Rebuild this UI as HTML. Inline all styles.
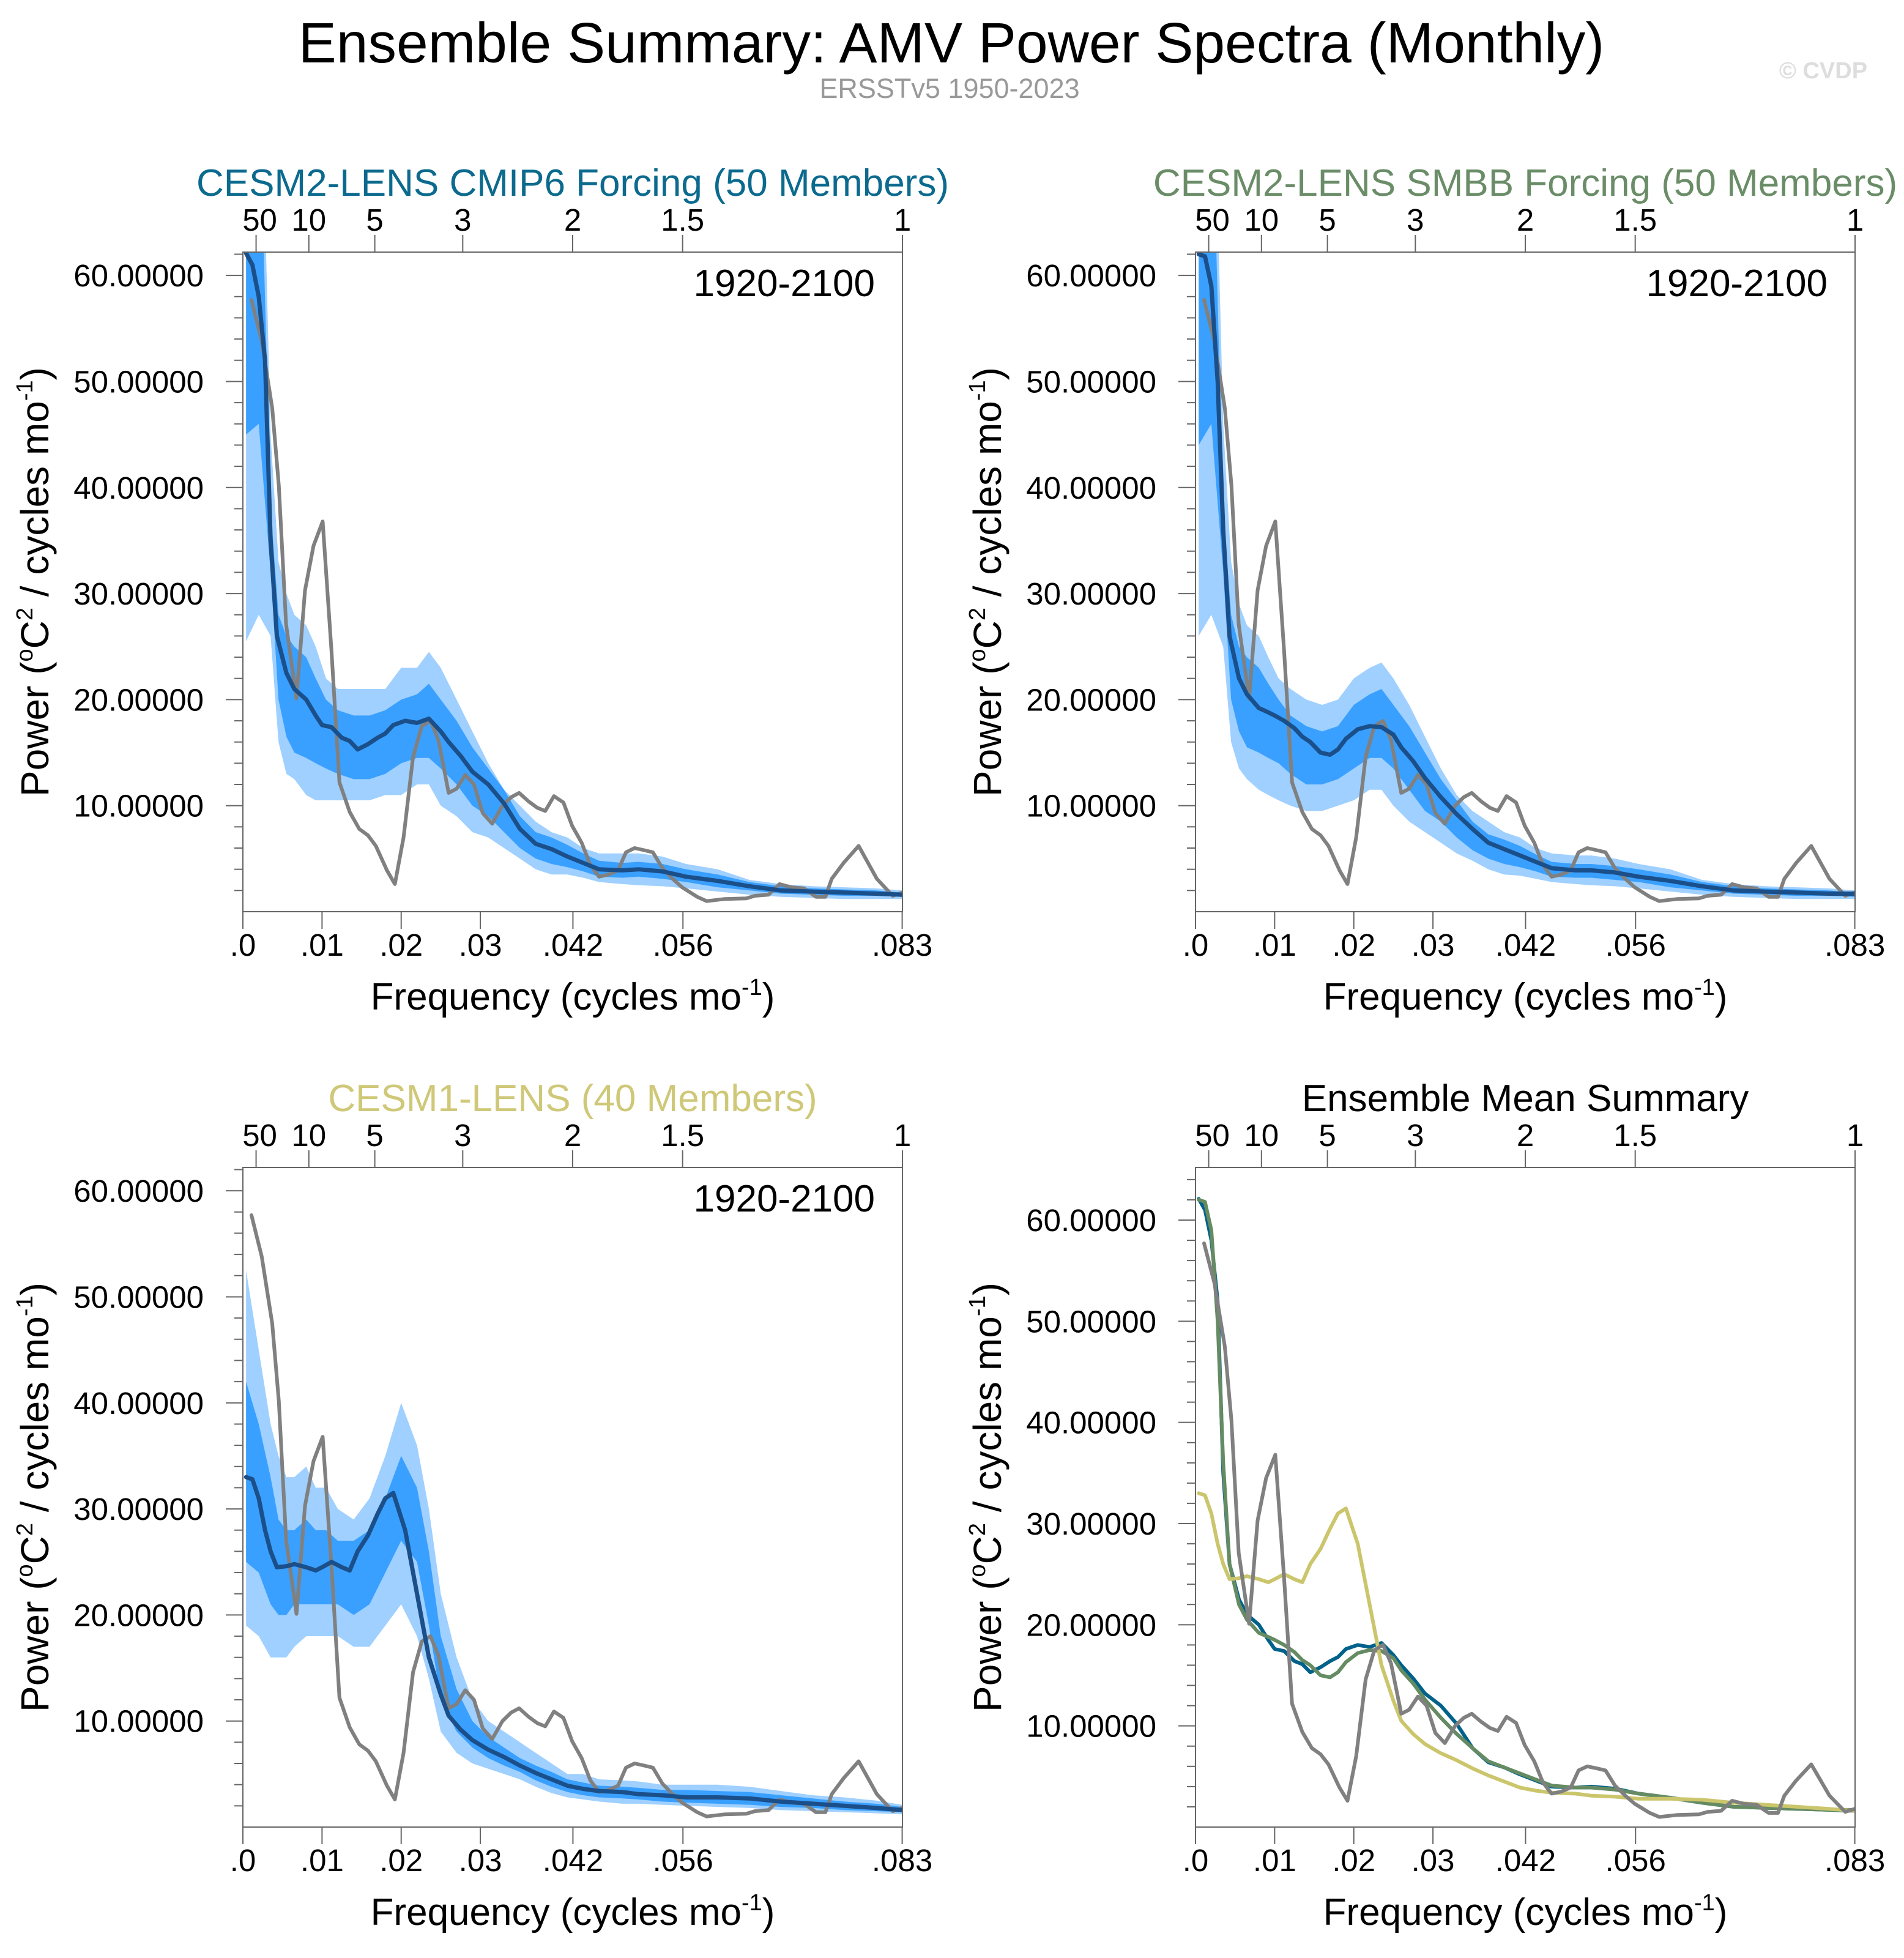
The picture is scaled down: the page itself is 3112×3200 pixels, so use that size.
<!DOCTYPE html>
<html><head><meta charset="utf-8"><style>
html,body{margin:0;padding:0;background:#fff;}
svg{display:block;font-family:"Liberation Sans",sans-serif;}
</style></head><body>
<svg id="fig" xmlns="http://www.w3.org/2000/svg" width="3112" height="3200" viewBox="0 0 3112 3200">
<rect width="3112" height="3200" fill="#fff"/>
<text x="1555" y="102" font-size="93" text-anchor="middle" fill="#000">Ensemble Summary: AMV Power Spectra (Monthly)</text>
<text x="1552" y="160" font-size="45" text-anchor="middle" fill="#999">ERSSTv5 1950-2023</text>
<text x="2980" y="128" font-size="38" font-weight="bold" text-anchor="middle" fill="#ddd">© CVDP</text>
<g id="panels"></g>
</svg>
<script>
// frequency grids (cycles/month)
const meanFreq = [0.0004,0.0012,0.002,0.0028,0.0035,0.0043,0.0055,0.0065,0.008,0.0092,0.0100,0.0112,0.0125,0.0135,0.0145,0.0158,0.017,0.018,0.019,0.0205,0.022,0.0235,0.025,0.026,0.0275,0.029,0.031,0.033,0.035,0.037,0.039,0.041,0.043,0.045,0.048,0.050,0.053,0.056,0.060,0.064,0.068,0.072,0.076,0.080,0.0833];
const bandFreq = [0.0004,0.002,0.0035,0.0045,0.0055,0.0065,0.008,0.0092,0.0105,0.012,0.014,0.016,0.018,0.02,0.022,0.0235,0.025,0.027,0.029,0.031,0.033,0.035,0.037,0.039,0.041,0.043,0.045,0.048,0.05,0.053,0.056,0.06,0.064,0.068,0.072,0.076,0.08,0.0833];
// observations (ERSSTv5)
const obsFreq = [0.00108,0.00238,0.0037,0.00454,0.00546,0.00677,0.00785,0.00892,0.01008,0.0112,0.0122,0.0135,0.0147,0.0158,0.0168,0.0182,0.0192,0.0203,0.0215,0.0226,0.0237,0.0247,0.026,0.027,0.0281,0.0292,0.0303,0.0315,0.0328,0.0339,0.0349,0.0361,0.0372,0.0382,0.0393,0.0405,0.0416,0.0428,0.0439,0.045,0.0462,0.0474,0.0484,0.0495,0.0507,0.0518,0.053,0.0543,0.0555,0.0574,0.0586,0.0609,0.0636,0.0647,0.0664,0.0678,0.0693,0.0709,0.0724,0.0736,0.0744,0.0759,0.0778,0.0801,0.0821,0.0833];
const obsPower = [57.7,53.8,47.5,40.2,27.1,20.1,30.3,34.5,36.8,24.5,12.2,9.4,7.8,7.2,6.2,3.9,2.6,7.0,14.6,17.5,18.0,16.2,11.2,11.6,12.9,12.0,9.3,8.3,10.0,10.8,11.2,10.4,9.8,9.5,10.9,10.3,8.1,6.5,4.4,3.3,3.5,3.9,5.6,6.0,5.8,5.6,4.1,3.1,2.3,1.4,1.0,1.2,1.25,1.5,1.6,2.6,2.3,2.2,1.4,1.4,3.1,4.6,6.2,3.1,1.5,1.8];
// CESM2-LENS CMIP6
const cmip6Mean = [62.1,61,58,52,35,26,22.5,21,20,18.5,17.6,17.4,16.4,16.1,15.3,15.8,16.4,16.8,17.6,18.0,17.8,18.2,17.0,16.0,14.7,13.2,12.0,10.2,7.8,6.4,5.9,5.2,4.6,4.0,3.9,4.0,3.8,3.3,2.9,2.4,2.0,1.9,1.8,1.7,1.6];
const cmip6OuterHi = [90,90,45,33,30,28,27,25,22,21,21,21,21,23,23,24.5,23,20,17,14,11.5,10,8.5,7.5,7,6,5.5,5.5,5.5,5.2,4.5,4,3,2.6,2.4,2.3,2.2,2.0];
const cmip6OuterLo = [25.5,28,26,16,13,12.5,11,10.5,10.5,10.5,10.5,10.5,11,11,12,12,10,9,7.5,7,6,5,4,3.5,3.5,3.2,2.8,2.6,2.5,2.4,2.2,1.9,1.6,1.4,1.3,1.2,1.2,1.2];
const cmip6InnerHi = [80,80,38,28,26,25,24,22,20,19,18.5,18.5,19,20,20.5,21.5,20,18,15.5,13.5,11.5,9,7.5,7,6.3,5.5,4.8,4.6,4.7,4.5,4,3.5,2.8,2.4,2.2,2.1,2,1.8];
const cmip6InnerLo = [45,46,32,20,16.5,15,14.5,14,13.5,13,12.5,12.5,13,14,14.5,14.5,13.5,12,10,9,7.5,6,5,4.5,4.2,3.8,3.3,3.2,3.3,3.1,2.8,2.3,2,1.7,1.6,1.5,1.5,1.4];
// CESM2-LENS SMBB
const smbbMean = [62,61.8,59,50,36,26,22,20.5,19.2,18.8,18.5,18,17.3,16.5,16,15,14.8,15.3,16.3,17.2,17.5,17.4,16.7,15.5,14.2,12.6,10.8,9.2,7.8,6.5,5.9,5.3,4.7,4.1,3.9,3.9,3.7,3.3,2.9,2.4,2.0,1.9,1.8,1.7,1.7];
const smbbOuterHi = [90,90,46,33,29,27,26,24,22,21,20,19.5,20,22,23,23.5,22,19.5,16.5,13.5,11,9.5,8.5,7.5,7,6,5.5,5.3,5.3,5,4.5,4,3,2.6,2.4,2.3,2.2,2.0];
const smbbOuterLo = [26,28,25,16,13.5,12.5,11.5,11,10.5,10,9.5,9.5,10,10.5,11.5,11.5,10,8.5,7.5,6.5,5.5,4.8,4,3.5,3.4,3.1,2.8,2.6,2.5,2.4,2.2,1.9,1.6,1.4,1.3,1.2,1.2,1.2];
const smbbInnerHi = [80,80,38,28,25,24,23,21.5,20,18.5,17.5,17,17.5,19.5,20.5,21,19.5,17.5,15,12.5,10.5,8.5,7.3,6.8,6.2,5.4,4.7,4.5,4.5,4.3,4,3.5,2.8,2.4,2.2,2.1,2,1.8];
const smbbInnerLo = [44,46,32,20,17,15.5,15,14.5,14,13,12,12,12.5,13.5,14.5,14.5,13.5,11.5,9.5,8.5,7,5.8,5,4.5,4.2,3.8,3.3,3.2,3.2,3.0,2.8,2.3,2,1.7,1.6,1.5,1.5,1.4];
// CESM1-LENS
const cesm1Mean = [33,32.8,31,28,26,24.5,24.6,24.8,24.5,24.2,24.5,25,24.5,24.2,26,27.5,29.5,31,31.5,28,22,16,12.5,10.5,9.2,8.2,7.3,6.6,5.8,5.1,4.5,3.9,3.6,3.4,3.3,3.1,3.0,2.8,2.8,2.7,2.4,2.2,2.0,1.8,1.6];
const cesm1OuterHi = [52.5,45,38,35,33,33,34,32,32,30,29,31,35,40,36,30,22,16,12,10,9,8,7,6,5,5,4.5,4.4,4.3,4,4,4,3.8,3.4,3,2.8,2.5,2.1];
const cesm1OuterLo = [19,18,16,16,16,17,18,18,18,18,17,17,19,21,18,14,9,7,6,5.5,5,4.5,3.8,3.2,2.8,2.6,2.4,2.2,2.2,2.1,2,1.9,1.8,1.6,1.5,1.4,1.3,1.2];
const cesm1InnerHi = [42,38,33,29,28,28,29,28,28,27,27,28,31,35,32,26,18,13,10,8.5,7.5,6.5,5.8,5.2,4.5,4.2,3.9,3.8,3.7,3.5,3.5,3.4,3.3,3,2.7,2.4,2.2,1.9];
const cesm1InnerLo = [25,24,21,20,20,21,21,21,21,21,20,21,24,27,25,19,12,9,7.5,6.5,5.8,5.2,4.4,3.8,3.3,3,2.8,2.7,2.6,2.4,2.3,2.2,2.1,1.9,1.8,1.6,1.5,1.4];
// axis ticks
const xTickVals = [0,0.01,0.02,0.03,0.0417,0.0556,0.0833];
const xTickLabels = [".0",".01",".02",".03",".042",".056",".083"];
const periodYears = [50,10,5,3,2,1.5,1];
const periodLabels = ["50","10","5","3","2","1.5","1"];
const yTickVals = [10,20,30,40,50,60];
const yTickLabels = ["10.00000","20.00000","30.00000","40.00000","50.00000","60.00000"];

const NS = "http://www.w3.org/2000/svg";
const root = document.getElementById('panels');
function mk(tag, attrs, parent){ const e=document.createElementNS(NS,tag); for(const k in attrs) e.setAttribute(k,attrs[k]); (parent||root).appendChild(e); return e; }

function panel(p){
  const g = mk('g',{});
  
  
  const X0=p.x, Y0=p.y, W=1078, H=1078, XMAX=1/12;
  const sx = f => X0 + f/XMAX*W;
  const sy = v => Y0 + H - v/p.ymax*H;
  const clipId = 'clip-'+p.key;
  const cp = mk('clipPath',{id:clipId}, g); mk('rect',{x:X0,y:Y0,width:W,height:H},cp);
  const plot = mk('g',{'clip-path':'url(#'+clipId+')'}, g);
  function band(fr, hi, lo, color, name){
    let d='M'; fr.forEach((f,i)=>{ d+=(i?'L':'')+sx(f).toFixed(1)+','+sy(hi[i]).toFixed(1); });
    for(let i=fr.length-1;i>=0;i--) d+='L'+sx(fr[i]).toFixed(1)+','+sy(lo[i]).toFixed(1);
    const e = mk('path',{d:d+'Z',fill:color,stroke:'none'},plot);
    
    
  }
  function line(fr, vals, color, w, name){
    const d = fr.map((f,i)=>(i?'L':'M')+sx(f).toFixed(1)+','+sy(vals[i]).toFixed(1)).join('');
    const e = mk('path',{d:d,fill:'none',stroke:color,'stroke-width':w,'stroke-linejoin':'round','stroke-linecap':'round'},plot);
    
    
  }
  if(p.bands){
    band(bandFreq, p.bands[0], p.bands[1], '#9fd0ff', 'outer-spread-band');
    band(bandFreq, p.bands[2], p.bands[3], '#3aa0ff', 'inner-spread-band');
    line(obsFreq, obsPower, '#808080', 6, 'obs-line');
    line(meanFreq, p.mean, '#1b4f8a', 7, 'ensemble-mean-line');
  } else {
    line(meanFreq, cmip6Mean, '#00628a', 6, 'cmip6-mean-line');
    line(meanFreq, smbbMean, '#658b63', 6, 'smbb-mean-line');
    line(meanFreq, cesm1Mean, '#cbc56c', 6, 'cesm1-mean-line');
    line(obsFreq, obsPower, '#808080', 6, 'obs-line');
  }
  const fr = mk('rect',{x:X0,y:Y0,width:W,height:H,fill:'none',stroke:'#666','stroke-width':2},g);
  
  
  for(let v=2; v<=p.ymax; v+=2){
    const major = v%10===0;
    mk('line',{x1:X0-(major?28:14),x2:X0,y1:sy(v),y2:sy(v),stroke:'#666','stroke-width':2},g);
  }
  yTickVals.forEach((v,i)=>{
    const t = mk('text',{x:X0-64,y:sy(v)+18,'font-size':51,'text-anchor':'end',fill:'#000'},g);
    t.textContent = yTickLabels[i];
    
    
  });
  xTickVals.forEach((f,i)=>{
    mk('line',{x1:sx(f),x2:sx(f),y1:Y0+H,y2:Y0+H+28,stroke:'#666','stroke-width':2},g);
    const t = mk('text',{x:sx(f),y:Y0+H+72,'font-size':51,'text-anchor':'middle',fill:'#000'},g);
    t.textContent = xTickLabels[i];
    
    
  });
  periodYears.forEach((yr,i)=>{
    const f = 1/(12*yr);
    mk('line',{x1:sx(f),x2:sx(f),y1:Y0-28,y2:Y0,stroke:'#666','stroke-width':2},g);
    const t = mk('text',{x:sx(f)+(i===0?6:0),y:Y0-35,'font-size':51,'text-anchor':'middle',fill:'#000'},g);
    t.textContent = periodLabels[i];
    
    
  });
  const tt = mk('text',{x:X0+W/2,y:Y0-92,'font-size':62,'text-anchor':'middle',fill:p.tcolor},g);
  tt.textContent = p.title;
  
  
  const xt = mk('text',{x:X0+W/2,y:Y0+H+160,'font-size':62,'text-anchor':'middle',fill:'#000'},g);
  xt.innerHTML = 'Frequency (cycles mo<tspan dy="-24" font-size="38">-1</tspan><tspan dy="24">)</tspan>';
  
  
  const yt = mk('text',{transform:'translate('+(X0-318)+','+(Y0+H/2)+') rotate(-90)','font-size':64,'text-anchor':'middle',fill:'#000'},g);
  yt.innerHTML = 'Power (<tspan dy="-26" font-size="38">o</tspan><tspan dy="26">C</tspan><tspan dy="-26" font-size="38">2</tspan><tspan dy="26"> / cycles mo</tspan><tspan dy="-26" font-size="38">-1</tspan><tspan dy="26">)</tspan>';
  
  
  if(p.period){
    const pt = mk('text',{x:X0+W-45,y:Y0+72,'font-size':62,'text-anchor':'end',fill:'#000'},g);
    pt.textContent = '1920-2100';
    
    
  }
}
panel({key:'cmip6',x:397,y:412,ymax:62.2,title:'CESM2-LENS CMIP6 Forcing (50 Members)',tcolor:'#0b6a8e',mean:cmip6Mean,bands:[cmip6OuterHi,cmip6OuterLo,cmip6InnerHi,cmip6InnerLo],period:true});
panel({key:'smbb',x:1954,y:412,ymax:62.2,title:'CESM2-LENS SMBB Forcing (50 Members)',tcolor:'#6a8d68',mean:smbbMean,bands:[smbbOuterHi,smbbOuterLo,smbbInnerHi,smbbInnerLo],period:true});
panel({key:'cesm1',x:397,y:1908,ymax:62.2,title:'CESM1-LENS (40 Members)',tcolor:'#cfc878',mean:cesm1Mean,bands:[cesm1OuterHi,cesm1OuterLo,cesm1InnerHi,cesm1InnerLo],period:true});
panel({key:'summary',x:1954,y:1908,ymax:65.2,title:'Ensemble Mean Summary',tcolor:'#000',bands:null,period:false});
</script>
</body></html>
